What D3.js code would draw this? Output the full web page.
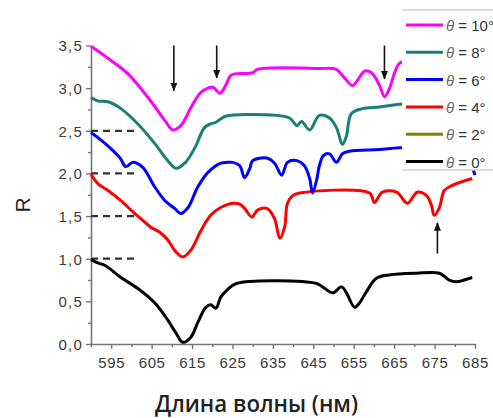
<!DOCTYPE html>
<html>
<head>
<meta charset="utf-8">
<script src="https://cdn.jsdelivr.net/npm/d3@7"></script>
<style>
body { margin: 0; background: #fff; }
svg text { font-family: Arial, "Liberation Sans", sans-serif; }
</style>
</head>
<body>
<div id="chart"></div>
<script>
// wavelengths (nm) and reflectance R
var nm10 = [590, 594.2, 599.1, 604.1, 608.3, 610.2, 612.2, 614.7, 617.2, 620.1, 621.9, 623.3, 624.6, 626, 630, 631.2, 646.5, 650.7, 652.7, 654.7, 655.9, 657.7, 659.4, 661.4, 662.6, 663.8, 665.1, 666.3, 670, 685];
var r10  = [3.49, 3.35, 3.17, 2.89, 2.62, 2.51, 2.56, 2.77, 2.95, 3.01, 2.94, 3.03, 3.15, 3.17, 3.18, 3.22, 3.23, 3.22, 3.12, 3.03, 3.09, 3.2, 3.18, 3.03, 2.9, 2.99, 3.18, 3.29, 3.35, 3.4];

var nm8 = [590, 591.7, 594.2, 597.4, 601.6, 605.8, 609, 611, 613.2, 615.7, 618.1, 619.6, 620.9, 622.1, 623.3, 628.5, 639.1, 640.9, 642.1, 644.1, 646.5, 649, 650.7, 652.2, 653.2, 654.4, 657.2, 661.4, 666.3, 685];
var r8  = [2.89, 2.85, 2.84, 2.76, 2.58, 2.35, 2.15, 2.06, 2.12, 2.3, 2.54, 2.58, 2.6, 2.64, 2.67, 2.69, 2.65, 2.56, 2.61, 2.51, 2.68, 2.65, 2.54, 2.34, 2.44, 2.7, 2.76, 2.78, 2.81, 2.85];

var nm6 = [590, 592.5, 594.7, 597.2, 598.6, 600.4, 602.8, 605.8, 608.3, 610.7, 612.2, 614, 616.4, 618.9, 622.1, 623.8, 625.1, 626.8, 628, 629.3, 630, 633.5, 635.4, 637.2, 638.6, 640.9, 642.8, 644.1, 644.8, 645.8, 646.5, 647.5, 649, 650.7, 652.2, 653.9, 661.4, 666.3, 680, 683.5, 685];
var r6  = [2.48, 2.39, 2.3, 2.18, 2.08, 2.13, 2.07, 1.84, 1.68, 1.59, 1.53, 1.6, 1.84, 2.01, 2.12, 2.13, 2.13, 2.09, 1.95, 2.06, 2.15, 2.18, 2.12, 1.98, 2.13, 2.15, 2.09, 1.94, 1.77, 1.92, 2.09, 2.21, 2.23, 2.13, 2.23, 2.26, 2.28, 2.3, 2.32, 2.15, 1.98];

var nm4 = [590, 591.7, 594.2, 597.4, 599.9, 602.3, 604.8, 607, 609, 611, 612.7, 614.7, 617.2, 619.6, 622.1, 625.1, 626.8, 628, 629.8, 631.2, 633.5, 635.4, 636.7, 637.9, 638.6, 639.9, 641.6, 658.9, 660.1, 662.1, 665.6, 668.3, 670.7, 673, 674.2, 674.9, 676.2, 677.4, 679.4, 684.3];
var r4  = [1.99, 1.88, 1.8, 1.68, 1.57, 1.47, 1.37, 1.31, 1.22, 1.08, 1.02, 1.1, 1.33, 1.51, 1.6, 1.65, 1.64, 1.59, 1.49, 1.57, 1.59, 1.47, 1.24, 1.37, 1.65, 1.74, 1.77, 1.77, 1.66, 1.78, 1.78, 1.65, 1.78, 1.74, 1.63, 1.51, 1.6, 1.8, 1.86, 1.94];

var nm0 = [590, 591.7, 593.5, 597.4, 601.6, 605.8, 609, 611, 612.7, 614.7, 616.4, 618.4, 619.6, 620.9, 622.1, 623.6, 626, 645.8, 647.3, 649.8, 652, 653.2, 655.2, 656.4, 658.1, 660.6, 663.8, 670.5, 676.2, 678.6, 680.4, 682.3, 684.3];
var r0  = [0.99, 0.95, 0.92, 0.78, 0.65, 0.48, 0.28, 0.13, 0.02, 0.08, 0.25, 0.43, 0.46, 0.42, 0.55, 0.63, 0.71, 0.71, 0.67, 0.6, 0.67, 0.6, 0.43, 0.48, 0.61, 0.77, 0.81, 0.83, 0.83, 0.75, 0.73, 0.75, 0.78];

var seriesNames  = ["10", "8", "6", "4", "2", "0"];
var seriesColors = ["#ff00ff", "#1b7f76", "#0000ff", "#ff0000", "#808000", "#000000"];
var seriesX = [nm10, nm8, nm6, nm4, [], nm0];
var seriesY = [r10, r8, r6, r4, [], r0];

var xTicks = [595, 605, 615, 625, 635, 645, 655, 665, 675, 685];
var yTicks = [0, 0.5, 1, 1.5, 2, 2.5, 3, 3.5];
var dashLevels = [2.5, 2, 1.5, 1];

// arrows: wavelength, start R, tip R
var arrowNm   = [610.5, 621.1, 662.6, 675.7];
var arrowFrom = [3.5, 3.5, 3.5, 1.06];
var arrowTo   = [2.97, 3.12, 3.11, 1.42];

var W = 493, H = 418;

var svg = d3.select("#chart").append("svg")
	.attr("width", W).attr("height", H);

var defs = svg.append("defs");
defs.append("marker")
	.attr("id", "head")
	.attr("viewBox", "0 0 10 10")
	.attr("refX", 9).attr("refY", 5)
	.attr("markerWidth", 5.5).attr("markerHeight", 5.5)
	.attr("markerUnits", "strokeWidth")
	.attr("orient", "auto")
	.append("path").attr("d", "M0,1 L10,5 L0,9 z").attr("fill", "#111");

var x = d3.scaleLinear().domain([590, 685]).range([91, 475]);
var y = d3.scaleLinear().domain([0, 3.5]).range([344, 45.5]);

// axes
var xAxis = svg.append("g").attr("transform", "translate(0,344)")
	.call(d3.axisBottom(x).tickValues(xTicks).tickSize(5).tickSizeOuter(0));
svg.append("g").attr("transform", "translate(0,344)")
	.call(d3.axisBottom(x).tickValues(d3.range(590, 685, 10)).tickSize(3).tickFormat(""))
	.select(".domain").remove();

var yAxis = svg.append("g").attr("transform", "translate(91,0)")
	.call(d3.axisLeft(y).tickValues(yTicks).tickSize(5).tickSizeOuter(0)
		.tickFormat(function(d) { return d3.format(".1f")(d).replace(".", ","); }));
svg.append("g").attr("transform", "translate(91,0)")
	.call(d3.axisLeft(y).tickValues(d3.range(0.25, 3.5, 0.5)).tickSize(3).tickFormat(""))
	.select(".domain").remove();

svg.selectAll(".domain").attr("stroke", "#777").attr("stroke-width", 1.6);
svg.selectAll(".tick line").attr("stroke", "#777").attr("stroke-width", 1.4);
svg.selectAll(".tick text").attr("fill", "#3a3a3a").style("font-size", "15px");
xAxis.selectAll(".tick text").attr("dy", "1.05em").style("letter-spacing", "0.6px");
yAxis.selectAll(".tick text").attr("x", -8).attr("dy", "0.36em").style("letter-spacing", "1.2px");

// dashed guides
svg.selectAll(".guide").data(dashLevels).enter().append("line")
	.attr("class", "guide")
	.attr("x1", x(590)).attr("x2", x(601))
	.attr("y1", function(d) { return y(d); })
	.attr("y2", function(d) { return y(d); })
	.attr("stroke", "#333").attr("stroke-width", 2.2)
	.attr("stroke-dasharray", "7,5");

// curves
var line = d3.line()
	.x(function(d) { return x(d[0]); })
	.y(function(d) { return y(d[1]); })
	.curve(d3.curveCatmullRom.alpha(0.5));

for (var i = seriesNames.length - 1; i >= 0; i--) {
	var pts = d3.zip(seriesX[i], seriesY[i]);
	if (!pts.length) continue;
	svg.append("path")
		.datum(pts)
		.attr("d", line)
		.attr("fill", "none")
		.attr("stroke", seriesColors[i])
		.attr("stroke-width", 3)
		.attr("stroke-linejoin", "round");
}

// arrows
for (var j = 0; j < arrowNm.length; j++) {
	svg.append("line")
		.attr("x1", x(arrowNm[j])).attr("x2", x(arrowNm[j]))
		.attr("y1", y(arrowFrom[j])).attr("y2", y(arrowTo[j]))
		.attr("stroke", "#111").attr("stroke-width", 1.6)
		.attr("marker-end", "url(#head)");
}

// legend
var lg = svg.append("g");
lg.append("rect").attr("x", 402).attr("y", 10).attr("width", 91).attr("height", 160).attr("fill", "#fff");
lg.append("line").attr("x1", 402).attr("x2", 493).attr("y1", 10).attr("y2", 10).attr("stroke", "#ccc").attr("stroke-width", 1.5);
lg.append("line").attr("x1", 402).attr("x2", 493).attr("y1", 170).attr("y2", 170).attr("stroke", "#ccc").attr("stroke-width", 1.5);

var rows = lg.selectAll(".row").data(seriesNames).enter().append("g")
	.attr("class", "row")
	.attr("transform", function(d, i) { return "translate(0," + (25 + i * 27.3) + ")"; });

rows.append("line")
	.attr("x1", 406).attr("x2", 443)
	.attr("stroke", function(d, i) { return seriesColors[i]; })
	.attr("stroke-width", 3);

var lt = rows.append("text")
	.attr("x", 446).attr("y", 6)
	.attr("fill", "#333")
	.style("font-size", "15px");
lt.append("tspan").style("font-style", "italic").attr("fill", "#666").text("θ");
lt.append("tspan").text(function(d) { return " = " + d + "°"; });

// axis titles
svg.append("text")
	.attr("transform", "translate(30,205) rotate(-90)")
	.attr("text-anchor", "middle")
	.attr("fill", "#222")
	.style("font-size", "21px")
	.text("R");

svg.append("text")
	.attr("x", 155).attr("y", 412)
	.attr("textLength", 203)
	.attr("lengthAdjust", "spacingAndGlyphs")
	.attr("fill", "#222")
	.style("font-family", "'Open Sans', sans-serif")
	.style("font-weight", 600)
	.style("font-size", "23px")
	.text("Длина волны (нм)");
</script>
</body>
</html>
